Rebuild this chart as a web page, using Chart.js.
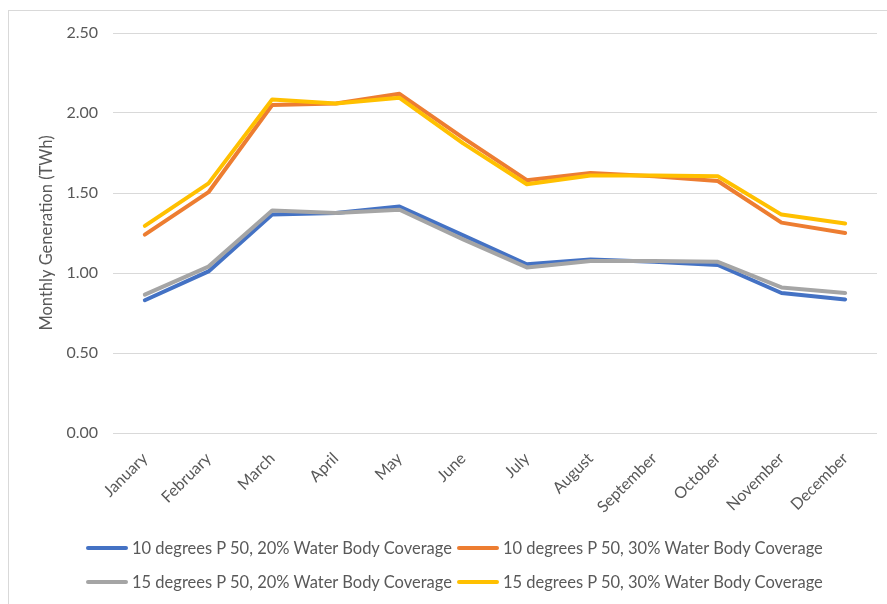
<!DOCTYPE html>
<html>
<head>
<meta charset="utf-8">
<script src="https://cdn.jsdelivr.net/npm/chart.js@4.4.0/dist/chart.umd.min.js"></script>
<style>
  html, body { margin: 0; padding: 0; background: #fff; }
  #wrap { position: relative; width: 887px; height: 604px; }
  #legend {
    position: absolute; left: 86px; top: 536px;
    display: grid; grid-template-columns: auto auto; column-gap: 5px; row-gap: 11px;
    font-family: Lato, "Open Sans", sans-serif; font-size: 16.5px; color: #595959;
  }
  .item { display: flex; align-items: center; height: 23px; white-space: nowrap; }
  .swatch { width: 42px; height: 4px; border-radius: 2px; margin-right: 4px; }
</style>
</head>
<body>
<div id="wrap">
  <canvas id="canvas" width="887" height="604"></canvas>
  <div id="legend"></div>
</div>
<script>
const months = ['January', 'February', 'March', 'April', 'May', 'June', 'July', 'August', 'September', 'October', 'November', 'December'];

const deg10Cov20 = [0.83, 1.01, 1.365, 1.375, 1.415, 1.235, 1.055, 1.085, 1.07, 1.05, 0.875, 0.835];
const deg10Cov30 = [1.24, 1.505, 2.05, 2.06, 2.12, 1.845, 1.58, 1.625, 1.605, 1.575, 1.315, 1.25];
const deg15Cov20 = [0.865, 1.04, 1.39, 1.375, 1.395, 1.21, 1.035, 1.075, 1.075, 1.07, 0.91, 0.875];
const deg15Cov30 = [1.295, 1.56, 2.085, 2.06, 2.095, 1.81, 1.555, 1.61, 1.61, 1.605, 1.365, 1.31];

const seriesNames = [
    '10 degrees P 50, 20% Water Body Coverage',
    '10 degrees P 50, 30% Water Body Coverage',
    '15 degrees P 50, 20% Water Body Coverage',
    '15 degrees P 50, 30% Water Body Coverage'
];
const seriesColors = ['#4472C4', '#ED7D31', '#A5A5A5', '#FFC000'];
const seriesData = [deg10Cov20, deg10Cov30, deg15Cov20, deg15Cov30];

const yAxisTitle = 'Monthly Generation (TWh)';
const fontFamily = 'Lato, "Open Sans", sans-serif';
const textColor = '#595959';
const gridColor = '#D9D9D9';

// marco gris alrededor del gráfico (como en Excel)
const chartBorder = {
    id: 'chartBorder',
    beforeDraw(chart) {
        const ctx = chart.ctx;
        ctx.save();
        ctx.strokeStyle = gridColor;
        ctx.lineWidth = 1;
        ctx.strokeRect(8.5, 10.5, 1000, 1000);
        ctx.restore();
    }
};

const datasets = seriesData.map((values, i) => ({
    label: seriesNames[i],
    data: values,
    borderColor: seriesColors[i],
    backgroundColor: seriesColors[i],
    borderWidth: 4,
    pointRadius: 0,
    tension: 0,
    fill: false,
    borderJoinStyle: 'round',
    borderCapStyle: 'round',
    order: seriesData.length - i // la última serie queda encima
}));

const ctx = document.getElementById('canvas').getContext('2d');
const chart = new Chart(ctx, {
    type: 'line',
    data: { labels: months, datasets: datasets },
    plugins: [chartBorder],
    options: {
        responsive: false,
        animation: false,
        layout: { padding: { left: 20, right: 10, top: 33, bottom: 0 } },
        plugins: {
            legend: { display: false },
            tooltip: { enabled: false }
        },
        scales: {
            x: {
                offset: true,
                grid: { display: false, drawTicks: false },
                border: { display: false },
                ticks: {
                    color: textColor,
                    font: { family: fontFamily, size: 16 },
                    minRotation: 45,
                    maxRotation: 45,
                    padding: 16,
                    autoSkip: false
                },
                afterFit(scale) { scale.height = 171; }
            },
            y: {
                min: 0,
                max: 2.5,
                grid: { color: gridColor, lineWidth: 1, drawTicks: false },
                border: { display: false },
                ticks: {
                    stepSize: 0.5,
                    color: textColor,
                    font: { family: fontFamily, size: 16 },
                    padding: 15,
                    callback: v => v.toFixed(2)
                },
                title: {
                    display: true,
                    text: yAxisTitle,
                    color: textColor,
                    font: { family: fontFamily, size: 16.5, weight: 'normal' },
                    padding: { top: 17, bottom: 0 }
                },
                afterFit(scale) { scale.width = 93; }
            }
        }
    }
});

// leyenda en HTML, dos columnas
const legendEl = document.getElementById('legend');
chart.data.datasets.forEach(ds => {
    const item = document.createElement('div');
    item.className = 'item';
    const sw = document.createElement('span');
    sw.className = 'swatch';
    sw.style.background = ds.borderColor;
    const txt = document.createElement('span');
    txt.textContent = ds.label;
    item.appendChild(sw);
    item.appendChild(txt);
    legendEl.appendChild(item);
});
</script>
</body>
</html>
